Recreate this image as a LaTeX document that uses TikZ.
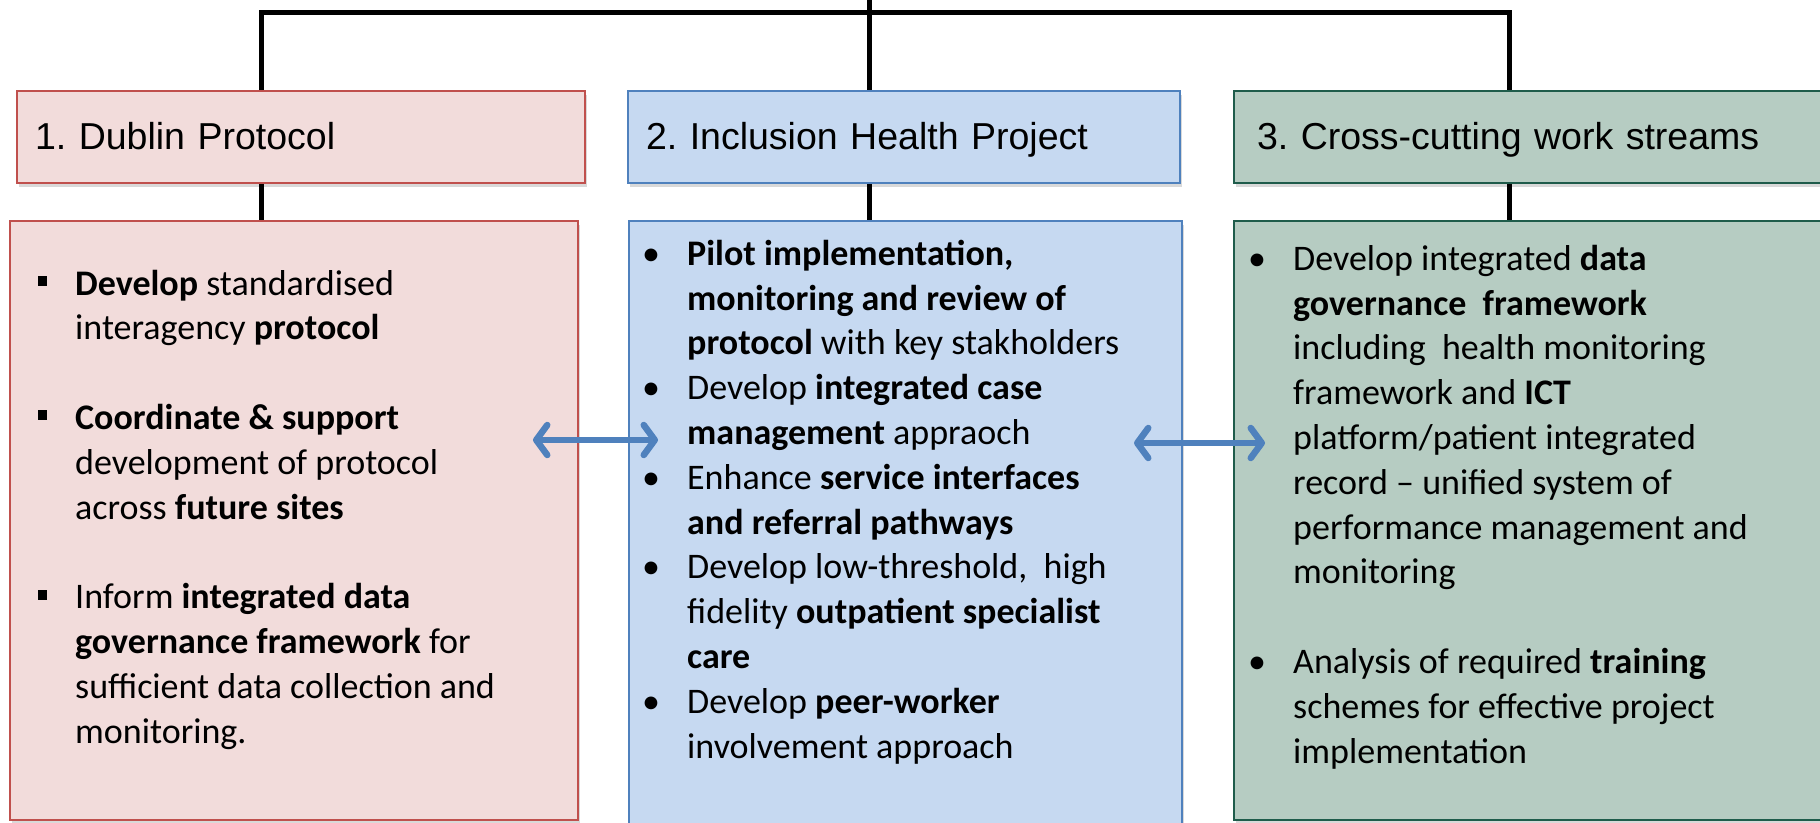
\documentclass[tikz,border=0pt]{standalone}
\usepackage{fontspec}
\setmainfont{Carlito}
\newfontfamily\hdrfont{Liberation Sans}
\usetikzlibrary{arrows.meta,shadows}
\frenchspacing

\definecolor{redfill}{HTML}{F2DCDB}
\definecolor{redline}{HTML}{C0504D}
\definecolor{bluefill}{HTML}{C6D9F1}
\definecolor{blueline}{HTML}{4F81BD}
\definecolor{greenfill}{HTML}{B6CCC2}
\definecolor{greenline}{HTML}{1F5C4B}

\newcommand\boxitem{\llap{\rule[9pt]{9pt}{10pt}\hspace{28pt}}}
\newcommand\dotitem{\llap{\makebox[45pt][l]{•}}}

\tikzset{
  box/.style={draw, line width=2pt, inner sep=0pt, anchor=north west,
    drop shadow={shadow xshift=2pt, shadow yshift=-4pt, opacity=.3}},
  hdr/.style={box, minimum height=92pt, align=left, inner xsep=18pt,
    text height=27pt, text depth=3pt, font=\hdrfont\fontsize{37.5}{46}\selectfont},
  redbox/.style={fill=redfill, draw=redline},
  bluebox/.style={fill=bluefill, draw=blueline},
  greenbox/.style={fill=greenfill, draw=greenline},
  list/.style={anchor=base west, align=left, inner sep=0pt,
    font=\fontsize{36}{44.8}\selectfont},
  conn/.style={draw, line width=5pt},
  link/.style={draw=blueline, line width=6.5pt, line cap=round,
    >={Straight Barb[length=11pt,width=30pt,round]}, <->}
}

\begin{document}
\begin{tikzpicture}[x=1pt,y=-1pt]
  \useasboundingbox (0,0) rectangle (1820,822);

  % tree lines
  \coordinate (root) at (869,-5);
  \coordinate (t1) at (261,12);
  \coordinate (t3) at (1509,12);

  % headers
  \node[hdr,redbox,minimum width=568pt,text width=532pt] (h1) at (16,90) {1. Dublin Protocol};
  \node[hdr,bluebox,minimum width=552pt,text width=516pt] (h2) at (627,90) {2. Inclusion Health Project};
  \node[hdr,greenbox,minimum width=610pt,text width=570pt,inner xsep=23pt] (h3) at (1233,90) {3. Cross-cutting work streams};

  % bodies
  \node[box,redbox,minimum width=568pt,minimum height=599pt] (b1) at (9,220) {};
  \node[box,bluebox,minimum width=553pt,minimum height=620pt] (b2) at (628,220) {};
  \node[box,greenbox,minimum width=610pt,minimum height=599pt] (b3) at (1233,220) {};

  % connectors
  \draw[conn] (h1.north -| t1) |- (t3) -- (h3.north -| t3);
  \draw[conn] (root) -- (h2.north -| root);
  \draw[conn] (h1.south -| t1) -- (b1.north -| t1);
  \draw[conn] (h2.south -| root) -- (b2.north -| root);
  \draw[conn] (h3.south -| t3) -- (b3.north -| t3);

  % texts (anchored at the last line)
  \node[list] (l1) at (75,743) {%
    \boxitem\textbf{Develop} standardised\\
    interagency \textbf{protocol}\\[44.8pt]
    \boxitem\textbf{Coordinate \& support}\\
    development of protocol\\
    across \textbf{future sites}\\[44.8pt]
    \boxitem Inform \textbf{integrated data}\\
    \textbf{governance framework} for\\
    sufficient data collection and\\
    monitoring.};
  \node[list] (l2) at (687,758) {%
    \dotitem\textbf{Pilot implementation,}\\
    \textbf{monitoring and review of}\\
    \textbf{protocol} with key stakholders\\
    \dotitem Develop \textbf{integrated case}\\
    \textbf{management} appraoch\\
    \dotitem Enhance \textbf{service interfaces}\\
    \textbf{and referral pathways}\\
    \dotitem Develop low-threshold,\ \ high\\
    fidelity \textbf{outpatient specialist}\\
    \textbf{care}\\
    \dotitem Develop \textbf{peer-worker}\\
    involvement approach};
  \node[list] (l3) at (1293,763) {%
    \dotitem Develop integrated \textbf{data}\\
    \textbf{governance\ \ framework}\\
    including\ \ health monitoring\\
    framework and \textbf{ICT}\\
    platform/patient integrated\\
    record – unified system of\\
    performance management and\\
    monitoring\\[44.8pt]
    \dotitem Analysis of required \textbf{training}\\
    schemes for effective project\\
    implementation};

  % links
  \coordinate (a1l) at (533,440);
  \coordinate (a1r) at (658,440);
  \coordinate (a2l) at (1134,443);
  \coordinate (a2r) at (1265,443);
  \draw[link] (a1l) -- (a1r);
  \draw[link] (a2l) -- (a2r);
\end{tikzpicture}
\end{document}
